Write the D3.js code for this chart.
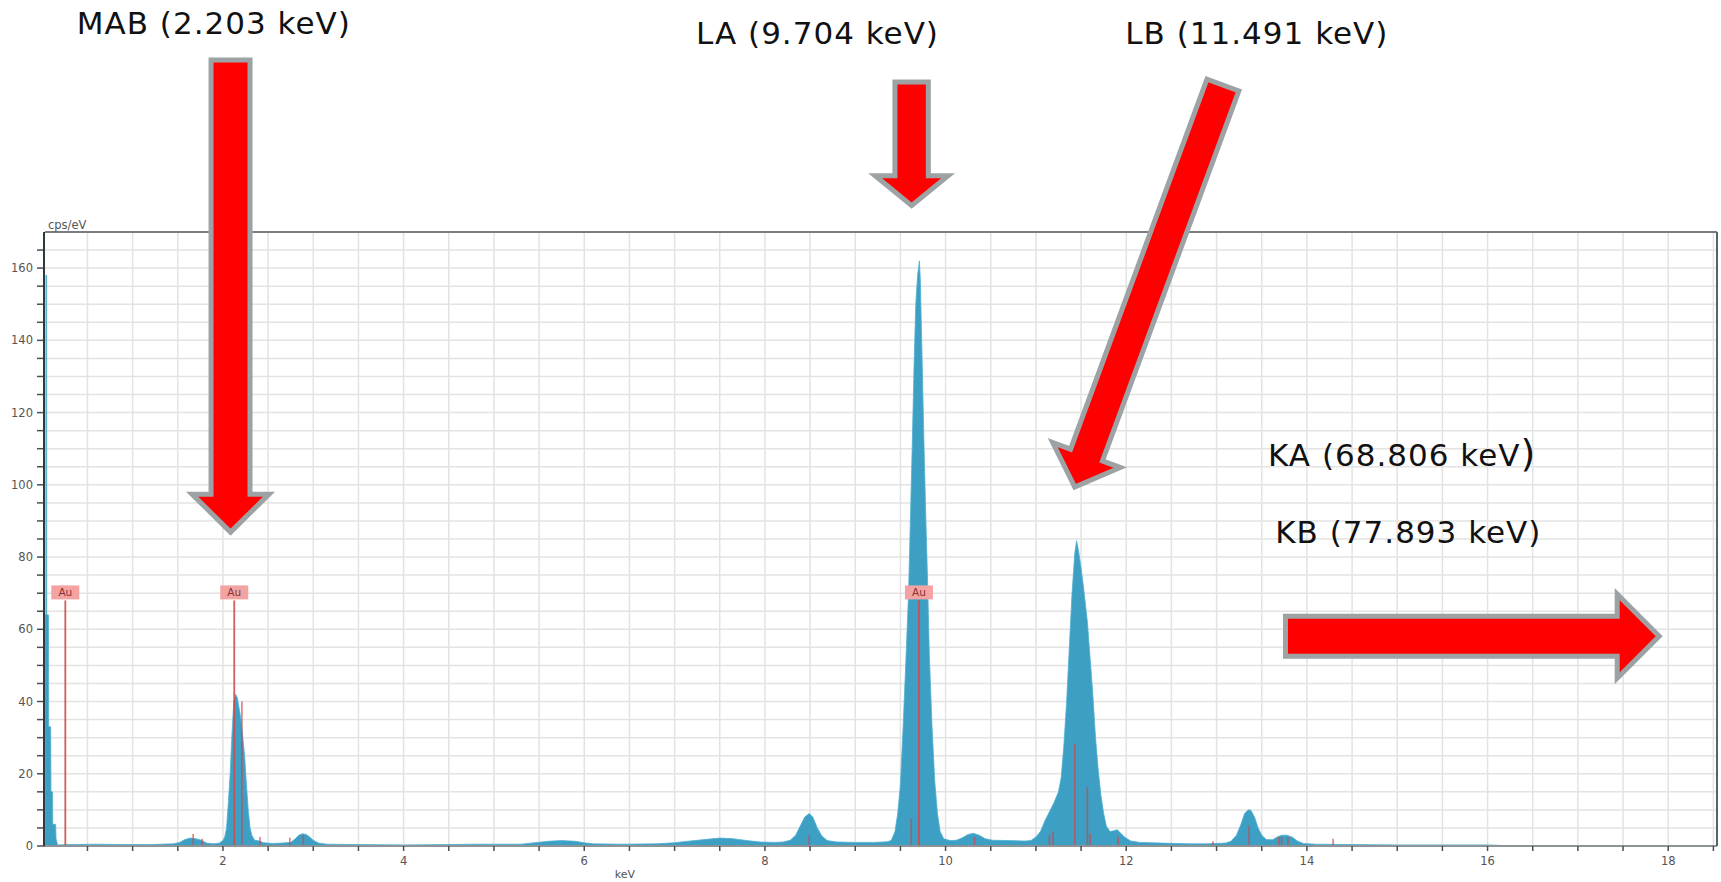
<!DOCTYPE html>
<html>
<head>
<meta charset="utf-8">
<script src="https://cdn.jsdelivr.net/npm/d3@7"></script>
<style>
  body { margin: 0; background: #ffffff; }
  svg { display: block; }
</style>
</head>
<body>
<svg id="chart" width="1721" height="882"></svg>
<script>
// ---- EDS spectrum of a gold sample: [energy keV, counts per eV] ----
const spectrum = [
  [0.030, 0], [0.030, 64], [0.039, 64], [0.040, 158], [0.048, 158], [0.049, 64], [0.068, 64], [0.071, 33], [0.093, 33],
  [0.096, 15], [0.113, 15], [0.116, 6], [0.148, 6], [0.152, 2], [0.170, 0.3],
  [0.30, 0.4], [0.60, 0.5], [0.90, 0.4], [1.20, 0.4], [1.45, 0.6],
  [1.52, 1.0], [1.58, 1.8], [1.64, 2.2], [1.70, 2.0], [1.76, 1.6], [1.82, 0.8], [1.90, 0.6], [1.96, 0.8],
  [2.00, 1.5], [2.02, 2.5], [2.04, 5], [2.06, 12], [2.08, 20], [2.10, 31], [2.12, 40], [2.14, 42],
  [2.16, 41], [2.18, 38], [2.20, 35], [2.22, 30], [2.24, 25], [2.26, 17], [2.28, 10], [2.30, 5],
  [2.32, 3], [2.35, 1.6], [2.40, 1.4], [2.45, 0.9],
  [2.55, 0.7], [2.65, 0.8], [2.75, 1.0], [2.80, 2.0], [2.84, 3.0], [2.88, 3.4], [2.92, 3.2],
  [2.96, 2.5], [3.00, 1.6], [3.06, 0.8],
  [3.15, 0.5], [3.50, 0.4], [4.00, 0.3], [4.50, 0.4], [4.80, 0.5], [5.00, 0.5], [5.30, 0.5],
  [5.45, 0.9], [5.60, 1.3], [5.75, 1.5], [5.90, 1.3], [6.00, 0.9], [6.10, 0.6],
  [6.40, 0.5], [6.80, 0.6], [7.00, 0.9],
  [7.10, 1.2], [7.30, 1.7], [7.50, 2.2], [7.65, 2.0], [7.80, 1.5], [7.95, 1.1], [8.10, 1.0], [8.20, 1.1],
  [8.28, 1.6], [8.34, 3], [8.39, 5.5], [8.44, 8], [8.49, 9], [8.53, 8], [8.58, 5], [8.63, 2.8],
  [8.69, 1.5], [8.80, 1.1], [9.00, 1.0], [9.20, 1.0], [9.30, 1.1],
  [9.36, 1.2], [9.40, 1.6], [9.44, 4], [9.47, 9], [9.50, 17], [9.53, 33], [9.56, 51], [9.59, 70],
  [9.61, 90], [9.63, 110], [9.65, 132], [9.67, 150], [9.69, 158], [9.71, 162], [9.72, 157],
  [9.74, 135], [9.76, 112], [9.78, 92], [9.80, 74], [9.82, 53], [9.85, 33], [9.88, 18], [9.91, 9],
  [9.94, 4], [9.98, 2], [10.05, 1.5],
  [10.12, 1.6], [10.18, 2.2], [10.25, 3.2], [10.31, 3.5], [10.37, 3], [10.44, 2], [10.52, 1.6],
  [10.70, 1.5], [10.85, 1.4],
  [10.90, 1.4], [10.95, 1.6], [11.00, 2.5], [11.05, 4], [11.10, 7], [11.15, 9.5], [11.20, 12],
  [11.25, 15], [11.28, 19], [11.31, 28], [11.34, 40], [11.37, 55], [11.40, 70], [11.43, 81],
  [11.45, 84.5], [11.47, 82], [11.50, 77], [11.53, 71], [11.57, 62], [11.60, 52], [11.63, 42],
  [11.66, 30], [11.69, 21], [11.72, 14], [11.75, 9], [11.78, 5.5], [11.82, 4], [11.86, 4.2],
  [11.90, 4.5], [11.94, 3.5], [11.98, 2.5], [12.05, 1.4], [12.15, 1.0],
  [12.40, 0.8], [12.70, 0.6], [12.90, 0.6], [13.10, 0.8],
  [13.16, 1.3], [13.22, 3], [13.27, 6], [13.31, 9], [13.35, 10], [13.38, 9.9], [13.42, 8],
  [13.46, 5], [13.50, 3], [13.55, 1.8], [13.62, 1.7], [13.67, 2.5], [13.72, 3], [13.78, 3],
  [13.84, 2.4], [13.90, 1.3], [13.96, 0.7],
  [14.10, 0.5], [14.50, 0.4], [15.00, 0.3], [15.50, 0.3], [16.00, 0.3], [16.20, 0.1], [16.50, 0],
  [18.54, 0]
];

// Element line markers (energy keV, relative height in cps/eV)
const markerKeV = [1.67, 1.77, 2.21, 2.41, 2.74, 2.89, 8.49, 9.62, 10.32, 11.15, 11.19,
                   11.43, 11.57, 11.60, 11.91, 12.96, 13.36, 13.69, 13.72, 13.79, 14.29];
const markerCps = [3.3, 2.0, 40, 2.5, 2.3, 3.0, 3.0, 7.6, 2.5, 3.0, 4.0,
                   28.3, 16.3, 3.4, 2.5, 1.3, 5.7, 2.5, 2.5, 2.5, 2.0];

// Labelled Au lines
const auKeV = [0.255, 2.125, 9.705];
const auCps = 68;
const auText = "Au";

// Axis ticks
const xTickLabels = [2, 4, 6, 8, 10, 12, 14, 16, 18];
const yTickLabels = [0, 20, 40, 60, 80, 100, 120, 140, 160];
const xDomain = [0.03, 18.54];
const yDomain = [0, 170];

// Callout arrows, in data units: tail (keV, cps) -> tip (keV, cps)
const arrowTailKeV = [2.084, 9.624, 13.07, 13.763];
const arrowTailCps = [217.6, 211.5, 210.7, 58.1];
const arrowTipKeV  = [2.084, 9.624, 11.43, 17.90];
const arrowTipCps  = [86.9, 177.3, 99.4, 58.1];
const arrowShaft   = [19.5, 16.7, 17, 20];
const arrowHead    = [38.5, 36.5, 36, 42];
const arrowHeadLen = [38, 30, 34, 42];

// Callout texts (keV, cps anchor of first glyph baseline)
const calloutText = ["MAB (2.203 keV)", "LA (9.704 keV)", "LB (11.491 keV)", "KA (68.806 keV", "KB (77.893 keV)"];
const calloutKeV  = [0.382, 7.237, 11.99, 13.57, 13.65];
const calloutCps  = [224.9, 222.0, 222.0, 105.1, 83.9];

// ---- layout ----
const margin = { left: 45, right: 4, top: 232, bottom: 36 };
const W = 1721, H = 882;
const svg = d3.select("#chart");
svg.append("rect").attr("width", W).attr("height", H).attr("fill", "#ffffff");

const x = d3.scaleLinear().domain(xDomain).range([margin.left, W - margin.right]);
const y = d3.scaleLinear().domain(yDomain).range([H - margin.bottom, margin.top]);

const plot = svg.append("g");

// clip region for the plotted data
svg.append("defs").append("clipPath").attr("id", "plotClip")
  .append("rect")
  .attr("x", x.range()[0]).attr("y", y.range()[1])
  .attr("width", x.range()[1] - x.range()[0])
  .attr("height", y.range()[0] - y.range()[1]);

// grid
const xGrid = d3.range(0.5, 18.51, 0.5);
const yGrid = d3.range(5, 170, 5);
plot.append("g").selectAll("line").data(xGrid).join("line")
  .attr("x1", d => x(d)).attr("x2", d => x(d))
  .attr("y1", y.range()[0]).attr("y2", y.range()[1])
  .attr("stroke", "#e3e3e3").attr("stroke-width", 1.5);
plot.append("g").selectAll("line").data(yGrid).join("line")
  .attr("x1", x.range()[0]).attr("x2", x.range()[1])
  .attr("y1", d => y(d)).attr("y2", d => y(d))
  .attr("stroke", "#e3e3e3").attr("stroke-width", 1.5);

// spectrum
const area = d3.area()
  .x(d => x(d[0]))
  .y0(y(0))
  .y1(d => y(d[1]))
  .curve(d3.curveLinear);
plot.append("path")
  .datum(spectrum)
  .attr("clip-path", "url(#plotClip)")
  .attr("d", area)
  .attr("fill", "#3d9fc3")
  .attr("stroke", "#4fb0d2")
  .attr("stroke-width", 0.8);

// element line markers
plot.append("g").selectAll("line").data(markerKeV).join("line")
  .attr("x1", d => x(d)).attr("x2", d => x(d))
  .attr("y1", y(0)).attr("y2", (d, i) => y(markerCps[i]))
  .attr("stroke", "#d0444c").attr("stroke-opacity", 0.7).attr("stroke-width", 1.6);

// Au lines with labels
const au = plot.append("g");
au.selectAll("line").data(auKeV).join("line")
  .attr("x1", d => x(d)).attr("x2", d => x(d))
  .attr("y1", y(0)).attr("y2", y(auCps))
  .attr("stroke", "#cf4a4a").attr("stroke-opacity", 0.9).attr("stroke-width", 1.8);
au.selectAll("rect").data(auKeV).join("rect")
  .attr("x", d => x(d) - 14).attr("y", y(auCps) - 15)
  .attr("width", 28).attr("height", 14)
  .attr("fill", "#f4a3a3");
au.selectAll("text").data(auKeV).join("text")
  .attr("x", d => x(d)).attr("y", y(auCps) - 4)
  .attr("text-anchor", "middle")
  .attr("font-family", "DejaVu Sans, sans-serif")
  .attr("font-size", 10.5)
  .attr("fill", "#8a3030")
  .text(auText);

// axes
const axisFont = "DejaVu Sans, sans-serif";
const yAxis = svg.append("g");
yAxis.selectAll("line").data(d3.range(0, 170, 5)).join("line")
  .attr("x1", margin.left - 8).attr("x2", margin.left)
  .attr("y1", d => y(d)).attr("y2", d => y(d))
  .attr("stroke", "#4a4f52").attr("stroke-width", 1.5);
yAxis.selectAll("text").data(yTickLabels).join("text")
  .attr("x", margin.left - 12).attr("y", d => y(d) + 4)
  .attr("text-anchor", "end")
  .attr("font-family", axisFont).attr("font-size", 11.5)
  .attr("fill", "#555")
  .text(d => d);

const xAxis = svg.append("g");
xAxis.append("line")
  .attr("x1", x.range()[0]).attr("x2", x.range()[1])
  .attr("y1", y(0)).attr("y2", y(0))
  .attr("stroke", "#8e9396").attr("stroke-width", 2);
xAxis.selectAll("line.tick").data(xGrid).join("line")
  .attr("class", "tick")
  .attr("x1", d => x(d)).attr("x2", d => x(d))
  .attr("y1", y(0)).attr("y2", y(0) + 5)
  .attr("stroke", "#4a4f52").attr("stroke-width", 1.5);
xAxis.selectAll("text").data(xTickLabels).join("text")
  .attr("x", d => x(d)).attr("y", y(0) + 19)
  .attr("text-anchor", "middle")
  .attr("font-family", axisFont).attr("font-size", 11.5)
  .attr("fill", "#555")
  .text(d => d);

// frame: top and right borders, strong left axis
svg.append("line")
  .attr("x1", x.range()[0]).attr("x2", x.range()[1])
  .attr("y1", y.range()[1]).attr("y2", y.range()[1])
  .attr("stroke", "#7a7d80").attr("stroke-width", 2);
svg.append("line")
  .attr("x1", x.range()[1]).attr("x2", x.range()[1])
  .attr("y1", y.range()[1]).attr("y2", y(0))
  .attr("stroke", "#5d6164").attr("stroke-width", 2);
svg.append("line")
  .attr("x1", x.range()[0] - 1).attr("x2", x.range()[0] - 1)
  .attr("y1", y.range()[1]).attr("y2", y(0))
  .attr("stroke", "#2f3a3f").attr("stroke-width", 2);

// axis titles
svg.append("text")
  .attr("x", margin.left + 3).attr("y", y.range()[1] - 3)
  .attr("font-family", axisFont).attr("font-size", 11.5).attr("fill", "#555")
  .text("cps/eV");
svg.append("text")
  .attr("x", x(6.45)).attr("y", H - 4)
  .attr("text-anchor", "middle")
  .attr("font-family", axisFont).attr("font-size", 11).attr("fill", "#555")
  .text("keV");

// callout arrows
const arrows = svg.append("g");
arrowTailKeV.forEach((tk, i) => {
  const x0 = x(tk), y0 = y(arrowTailCps[i]);
  const x1 = x(arrowTipKeV[i]), y1 = y(arrowTipCps[i]);
  const len = Math.hypot(x1 - x0, y1 - y0);
  const ang = Math.atan2(y1 - y0, x1 - x0) * 180 / Math.PI;
  const sh = arrowShaft[i], hh = arrowHead[i], hl = arrowHeadLen[i];
  const pts = [[0, -sh], [len - hl, -sh], [len - hl, -hh], [len, 0],
               [len - hl, hh], [len - hl, sh], [0, sh]];
  arrows.append("polygon")
    .attr("transform", `translate(${x0},${y0}) rotate(${ang})`)
    .attr("points", pts.map(p => p.join(",")).join(" "))
    .attr("fill", "#ff0000")
    .attr("stroke", "#9da2a5")
    .attr("stroke-width", 5)
    .attr("stroke-linejoin", "miter");
});

// callout texts
const callouts = svg.append("g")
  .attr("font-family", "DejaVu Sans, Verdana, sans-serif")
  .attr("font-size", 31)
  .attr("letter-spacing", 1)
  .attr("fill", "#111");
calloutText.forEach((t, i) => {
  const txt = callouts.append("text")
    .attr("x", x(calloutKeV[i])).attr("y", y(calloutCps[i]));
  txt.append("tspan").text(t);
  if (i === 3) {
    txt.append("tspan").attr("font-size", 38).attr("dy", 0).text(")");
  }
});
</script>
</body>
</html>
